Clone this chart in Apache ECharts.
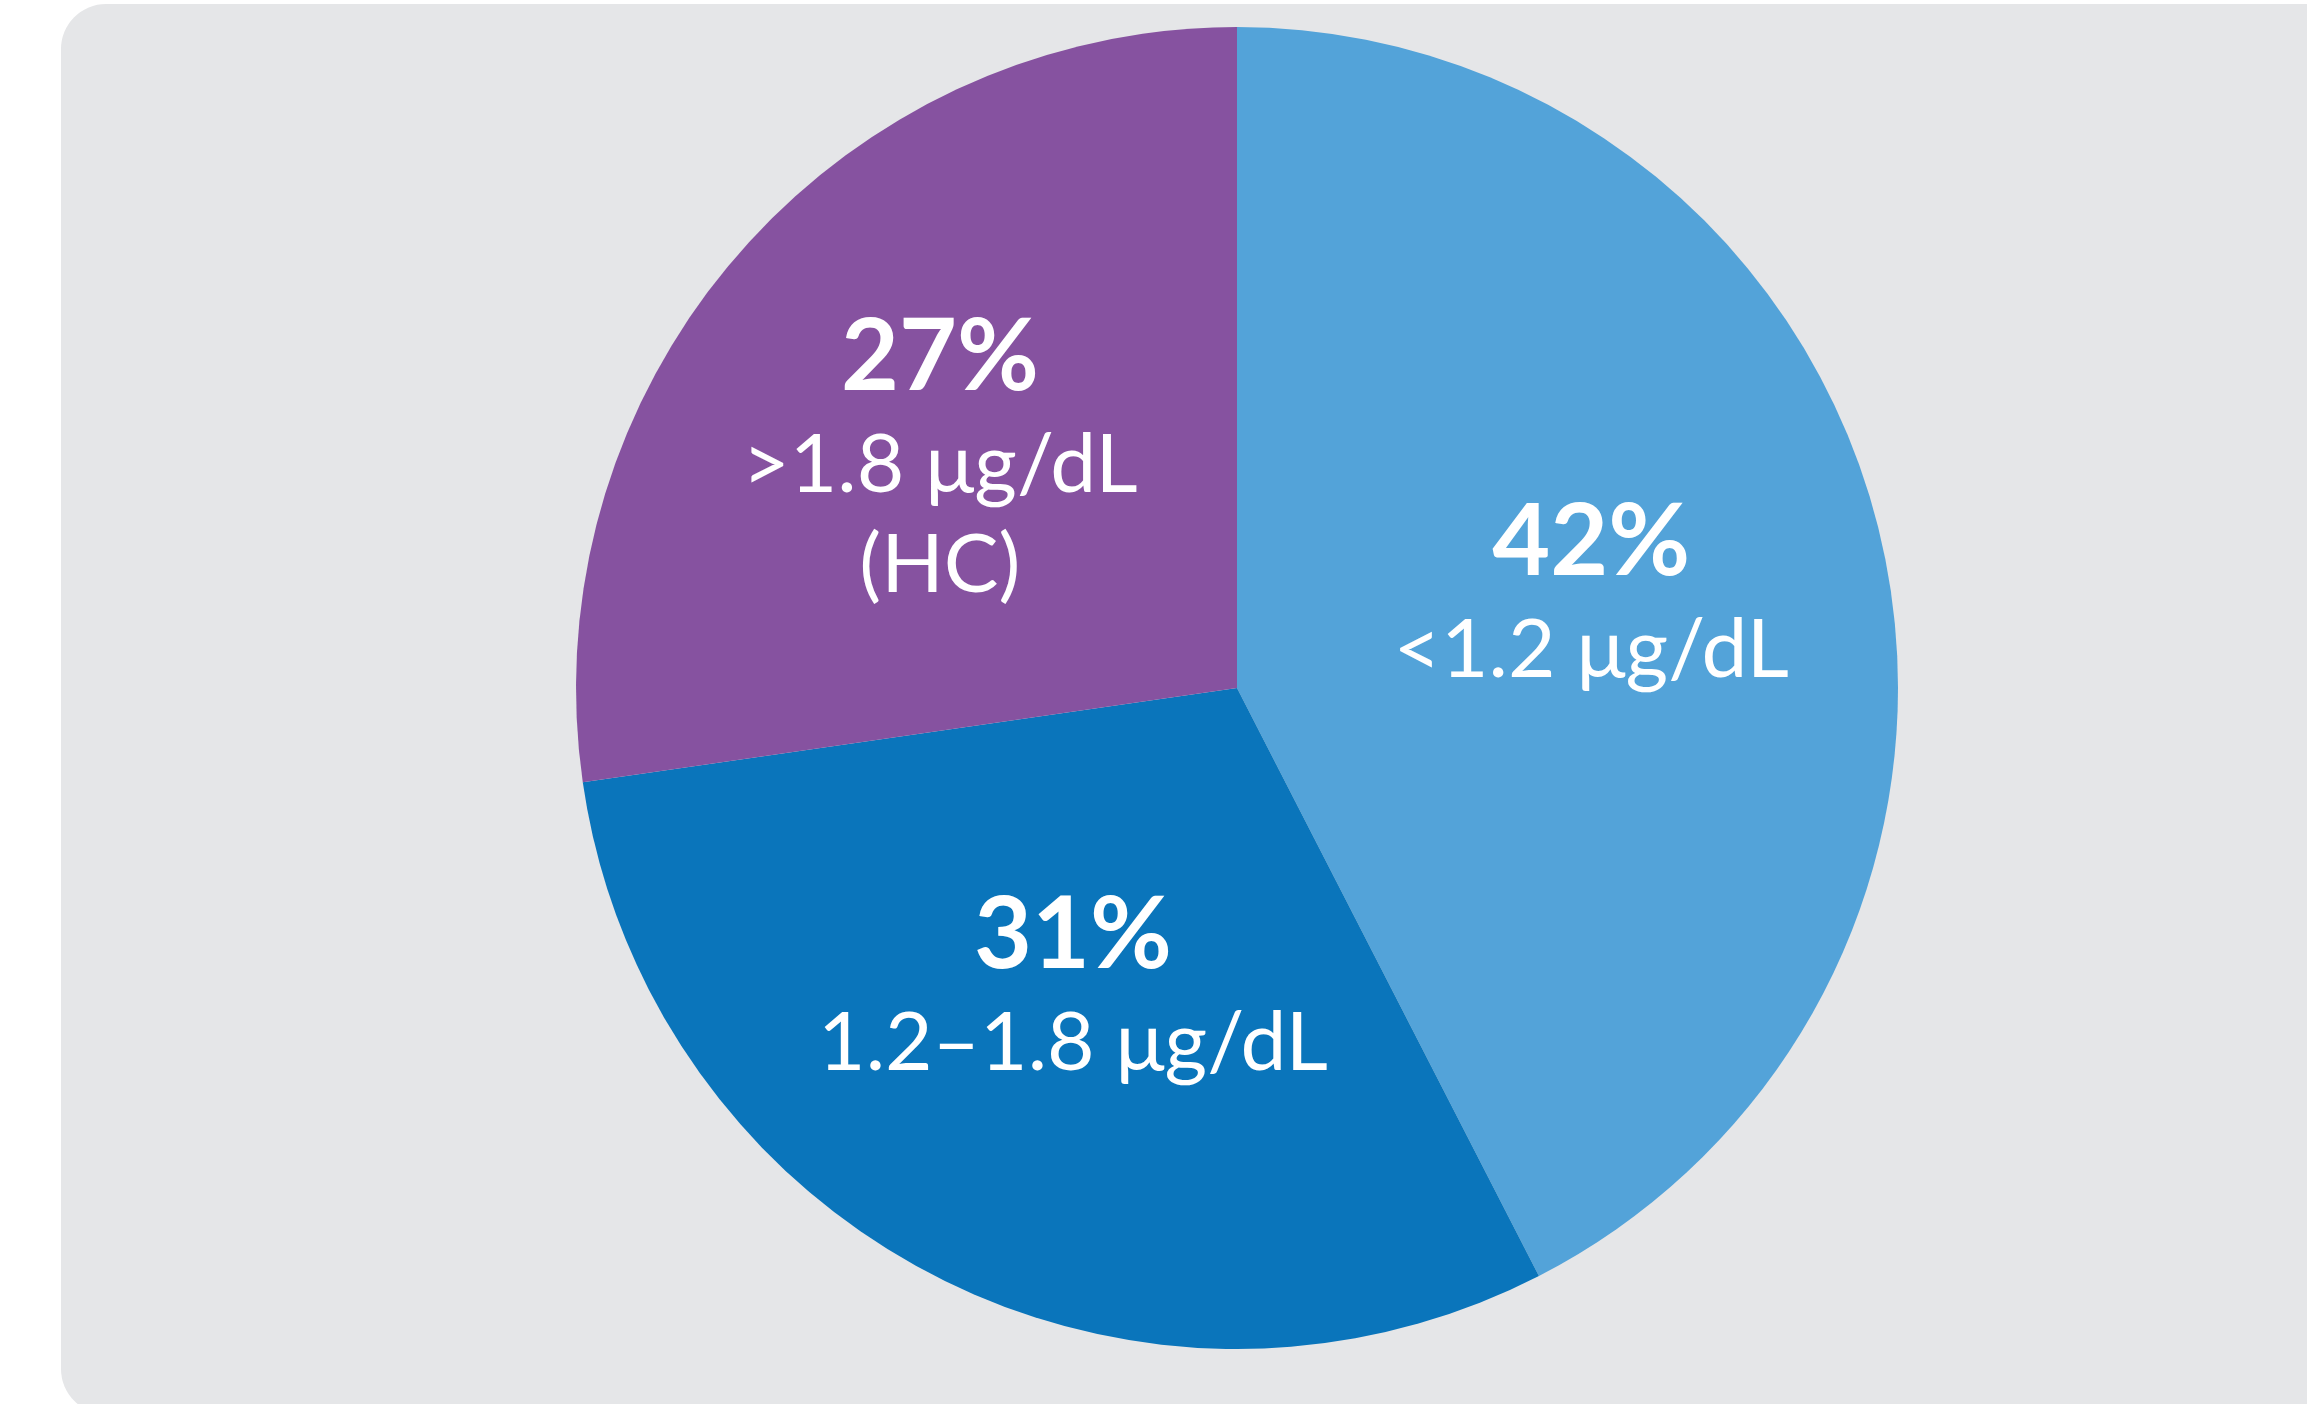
<!DOCTYPE html>
<html>
<head>
<meta charset="utf-8">
<script src="https://cdn.jsdelivr.net/npm/echarts@6/dist/echarts.min.js"></script>
<style>
  html, body { margin: 0; padding: 0; background: #fff; }
  #main { width: 2307px; height: 1404px; }
</style>
</head>
<body>
<div id="main"></div>
<script>
// data
var categories = ['<1.2 μg/dL', '1.2–1.8 μg/dL', '>1.8 μg/dL\n(HC)'];
var pctLabels = ['42%', '31%', '27%'];
var sliceValues = [42.45, 30.27, 27.28];
var colors = ['#53a3d9', '#0a75bb', '#8652a0'];

// label nudges (px) so text sits where the original had it
var labelShift = [[30, -17], [-11, 1], [-45, -12]];

var myChart = echarts.init(document.getElementById('main'));

var option = {
    backgroundColor: '#ffffff',
    animation: false,
    graphic: [{
        type: 'rect',
        z: -10,
        shape: { x: 61, y: 4, width: 2400, height: 1410, r: 45 },
        style: { fill: '#e5e6e8' }
    }],
    series: [{
        type: 'pie',
        center: [1237, 688],
        radius: 661,
        startAngle: 90,
        clockwise: true,
        silent: true,
        label: {
            show: true,
            position: 'inside',
            fontFamily: 'Lato',
            color: '#fff',
            formatter: function (p) {
                var lines = p.name.split('\n').map(function (s) { return '{t|' + s + '}'; });
                return '{p|' + pctLabels[p.dataIndex] + '}\n' + lines.join('\n');
            },
            rich: {
                p: { fontFamily: 'Lato', fontWeight: 'bold', fontSize: 100, lineHeight: 116, color: '#fff' },
                t: { fontFamily: 'Lato', fontSize: 82, lineHeight: 100, color: '#fff' }
            }
        },
        labelLine: { show: false },
        data: categories.map(function (c, i) {
            return {
                name: c,
                value: sliceValues[i],
                itemStyle: { color: colors[i] },
                label: { offset: labelShift[i] }
            };
        })
    }]
};

myChart.setOption(option);
</script>
</body>
</html>
